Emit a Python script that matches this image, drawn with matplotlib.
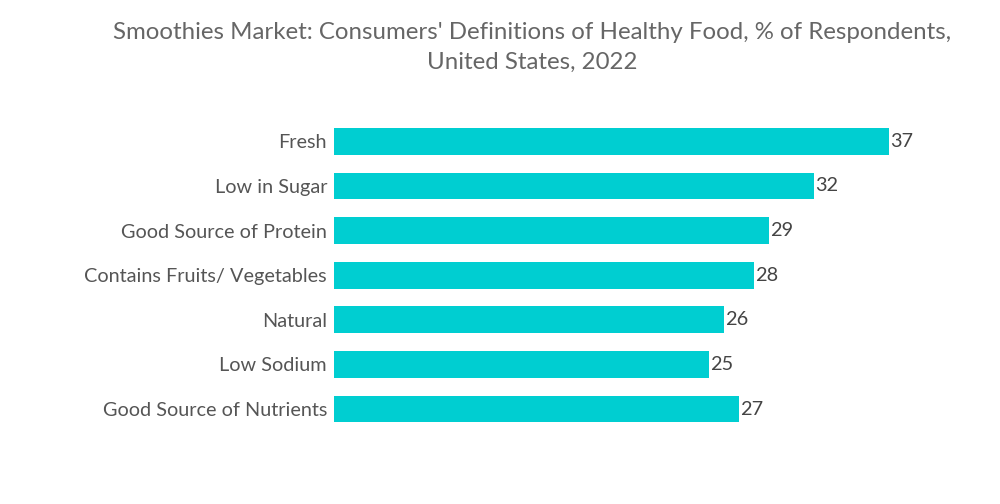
import matplotlib
matplotlib.use("Agg")
import matplotlib.pyplot as plt

categories = ["Fresh", "Low in Sugar", "Good Source of Protein", "Contains Fruits/ Vegetables",
              "Natural", "Low Sodium", "Good Source of Nutrients"]
values = [37, 32, 29, 28, 26, 25, 27]
title = "Smoothies Market: Consumers' Definitions of Healthy Food, % of Respondents,\nUnited States, 2022"

plt.rcParams['font.family'] = ['Lato', 'DejaVu Sans']

fig = plt.figure(figsize=(10, 5.04), dpi=100)
ax = fig.add_axes([0.334, 0.144, 0.616, 0.620])
y = list(range(len(categories)))
ax.barh(y, values, height=0.60, color="#00CED1")
ax.set_ylim(len(categories) - 0.5, -0.5)
ax.set_xlim(0, 41.1)
ax.set_yticks(y)
ax.set_yticklabels(categories, fontsize=14.3, color="#555555")
ax.tick_params(axis='y', length=0, pad=5)
ax.set_xticks([])
for s in ax.spines.values():
    s.set_visible(False)
for yi, v in zip(y, values):
    ax.text(v + 0.1, yi, str(v), va='center', ha='left', fontsize=14.3, color="#444444")

fig.text(0.532, 0.957, title, ha='center', va='top', fontsize=17.3, color="#666666", linespacing=1.55)
fig.savefig("out.png", dpi=100)
